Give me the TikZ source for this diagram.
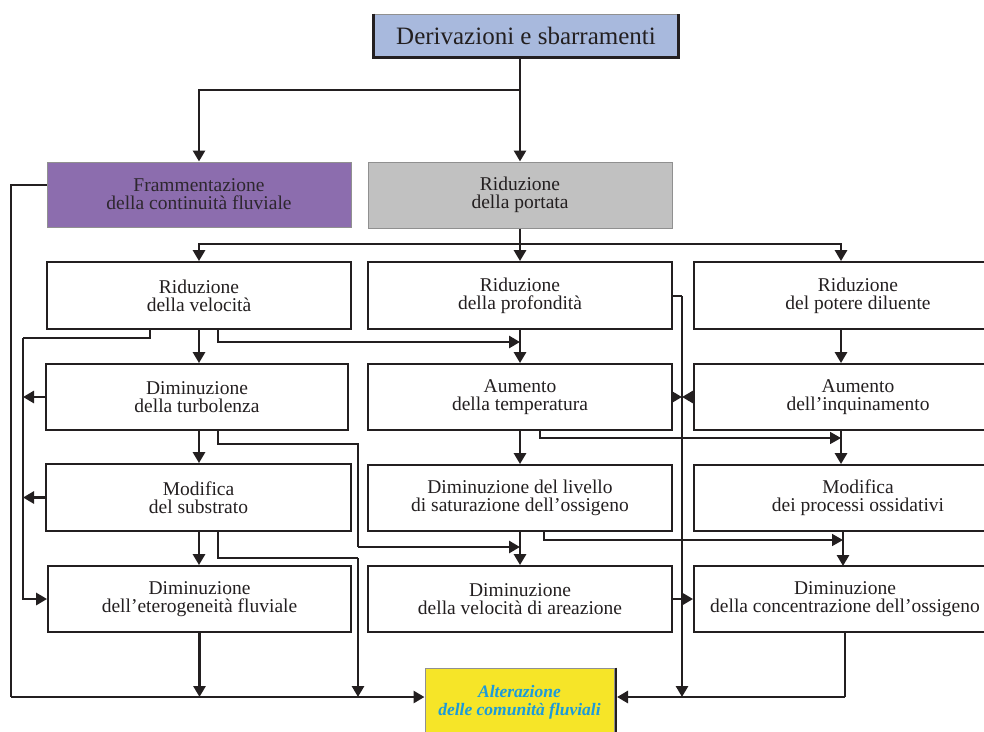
\documentclass[tikz,border=0pt]{standalone}
\usepackage{fontspec}
\setmainfont{Liberation Serif}
\usetikzlibrary{arrows.meta}
\definecolor{ink}{HTML}{231F20}
\definecolor{topfill}{HTML}{A8B9DD}
\definecolor{purp}{HTML}{8C6DAE}
\definecolor{grayfill}{HTML}{C1C1C1}
\definecolor{yel}{HTML}{F6E528}
\definecolor{bluetxt}{HTML}{1B9ADB}
\definecolor{edgegray}{HTML}{909090}
\tikzset{
  box/.style={draw=ink, line width=1.8pt, fill=white, inner sep=0pt, align=center,
    text=ink, font=\fontsize{19.5}{18}\selectfont},
  thk/.style={draw=ink, line width=2.8pt, -{Triangle[length=11pt,width=12pt]}},
  thn/.style={draw=ink, line width=1.6pt, -{Triangle[length=11pt,width=12pt]}},
  thkl/.style={draw=ink, line width=2.8pt},
  thnl/.style={draw=ink, line width=1.6pt},
}
\begin{document}
\begin{tikzpicture}[x=1pt,y=-1pt]
\useasboundingbox (0,0) rectangle (984,731);
% top box
\node[box, draw=edgegray, line width=1pt, fill=topfill, minimum width=304pt, minimum height=43pt,
  font=\fontsize{25}{25}\selectfont] (top) at (526,35.5) {Derivazioni e sbarramenti};
\draw[ink, line width=3pt] (top.north west) -- (top.south west) -- (top.south east) -- (top.north east);
% row 0
\node[box, draw=edgegray, line width=1pt, fill=purp, minimum width=304pt, minimum height=65pt, text=ink!90!purp] (frag) at (199,194.5) {Frammentazione\\della continuità fluviale};
\node[box, draw=edgegray, line width=1pt, fill=grayfill, minimum width=304pt, minimum height=66pt] (port) at (520,195) {Riduzione\\della portata};
% row 1
\node[box, minimum width=304pt, minimum height=67pt] (vel) at (199,295.5) {Riduzione\\della velocità};
\node[box, minimum width=304pt, minimum height=67pt] (prof) at (520,295.5) {Riduzione\\della profondità};
\node[box, minimum width=328pt, minimum height=67pt] (dil) at (858,295.5) {Riduzione\\del potere diluente};
% row 2
\node[box, minimum width=302pt, minimum height=66pt] (turb) at (197,397) {Diminuzione\\della turbolenza};
\node[box, minimum width=304pt, minimum height=66pt] (temp) at (520,397) {Aumento\\della temperatura};
\node[box, minimum width=328pt, minimum height=66pt] (inq) at (858,397) {Aumento\\dell’inquinamento};
% row 3
\node[box, minimum width=305pt, minimum height=67pt] (sub) at (198.5,497.5) {Modifica\\del substrato};
\node[box, minimum width=304pt, minimum height=66pt] (sat) at (520,498) {Diminuzione del livello\\di saturazione dell’ossigeno};
\node[box, minimum width=328pt, minimum height=66pt] (oss) at (858,498) {Modifica\\dei processi ossidativi};
% row 4
\node[box, minimum width=303pt, minimum height=66pt] (ete) at (199.5,599) {Diminuzione\\dell’eterogeneità fluviale};
\node[box, minimum width=304pt, minimum height=66pt] (aer) at (520,599) {Diminuzione\\della velocità di areazione};
\node[box, minimum width=328pt, minimum height=66pt] (conc) at (858,599) {};
\node[align=center, text=ink, font=\fontsize{19.5}{18}\selectfont, inner sep=0pt] (conct) at (845,599) {Diminuzione\\della concentrazione dell’ossigeno};
% final box
\node[box, draw=edgegray, line width=1pt, fill=yel, minimum width=189pt, minimum height=68pt,
  text=bluetxt, font=\fontsize{17.5}{18}\selectfont\bfseries\itshape] (alt) at (519.5,702) {Alterazione\\delle comunità fluviali};
\draw[ink, line width=2.5pt] ([xshift=1.5pt]alt.north east) -- ([xshift=1.5pt]alt.south east);

% junction coordinates
\coordinate (j1) at (520,90);
\coordinate (j2) at (520,244);
\coordinate (rc) at (841,0);
\coordinate (bl) at (11,697);
\coordinate (lc) at (23,0);
\coordinate (vc) at (682,0);

% top connections
\draw[thkl] (top.south -| j1) -- (j1);
\draw[thk] (j1) -- (port.north);
\draw[thk] (j1) -| (frag.north);
% portata distribution
\draw[thkl] (port.south) -- (j2);
\draw[thk] (j2) -- (prof.north);
\draw[thk] (j2) -| (vel.north);
\draw[thk] (j2) -| (rc |- dil.north);

% left column
\draw[thk] (vel.south) -- (vel.south |- turb.north);
\draw[thk] (218,329) -- (218,342) -- (520,342);
\draw[thnl] (150,329) -- (150,338) -- (23,338);
\draw[thk] (23,338) |- (ete.west);
\draw[thk] (turb.west) -- (lc |- turb.west);
\draw[thk] (sub.west) -- (lc |- sub.west);
\draw[thk] (turb.south -| vel.south) -- (sub.north -| vel.south);
\draw[thnl] (218,430) -- (218,444) -- (358,444) -- (358,547);
\draw[thk] (358,547) -- (520,547);
\draw[thk] (sub.south -| vel.south) -- (ete.north -| vel.south);
\draw[thnl] (218,531) -- (218,558) -- (358,558);
\draw[thk] (358,558) -- (358,697);
\draw[thk] (ete.south) -- (ete.south |- bl);

% left collector to final box
\draw[thnl] ([yshift=9.5pt]frag.west) -| (bl);
\draw[thk] (bl) -- (bl -| alt.west);

% middle column
\draw[thk] (prof.south) -- (temp.north);
\draw[thk] (temp.south) -- (sat.north);
\draw[thk] (sat.south) -- (aer.north);
\draw[thn] (540,430) -- (540,438) -- (rc |- 0,438);
\draw[thn] (544,531) -- (544,540) -- (843,540);

% vertical collector at x=682
\draw[thkl] (prof.east |- 0,296) -- (682,296);
\draw[thk] (682,296) -- (682,697);
\draw[thk] (temp.east) -- (vc |- temp.east);
\draw[thk] (inq.west) -- (vc |- inq.west);
\draw[thk] (aer.east) -- (conc.west);

% right column
\draw[thk] (rc |- dil.south) -- (rc |- inq.north);
\draw[thk] (rc |- inq.south) -- (rc |- oss.north);
\draw[thk] (843,531) -- (843,566);
\draw[thnl] (845,632) -- (845,697);
\draw[thk] (845,697) -- ([xshift=2.5pt]alt.east |- 0,697);
\end{tikzpicture}
\end{document}
